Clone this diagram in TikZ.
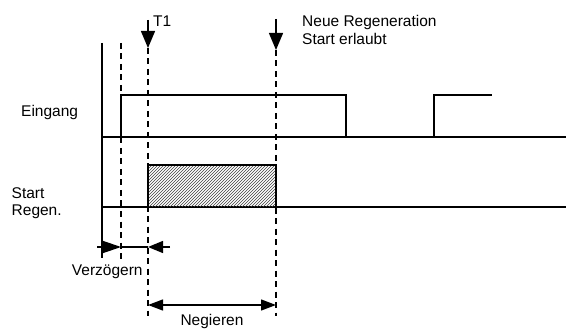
\documentclass[tikz,border=0pt]{standalone}
\usepackage{fontspec}
\setmainfont{Liberation Sans}
\usetikzlibrary{arrows.meta,patterns}
\begin{document}
\begin{tikzpicture}[x=1pt,y=-1pt,
  sig/.style={line width=1.3pt},
  dline/.style={line width=1.2pt,dash pattern=on 6pt off 4.5pt},
  bigtip/.style={-{Triangle[length=17pt,width=14pt]},line width=1.3pt},
  medtip/.style={{Triangle[length=15pt,width=11pt]}-{Triangle[length=15pt,width=11pt]},line width=1.3pt},
  lbl/.style={font=\fontsize{15.5}{18}\selectfont,inner sep=0pt}]
\useasboundingbox (0,0) rectangle (566,329);
% axis
\draw[line width=1.3pt] (102,43) -- (102,258);
% dashed markers
\draw[dline] (121,43) -- (121,260);
\coordinate (t1top) at (148,20);
\coordinate (t1tip) at (148,48);
\coordinate (t2top) at (276,19);
\coordinate (t2tip) at (276,50);
\draw[bigtip] (t1top) -- (t1tip);
\draw[bigtip] (t2top) -- (t2tip);
\draw[dline] (t1tip) -- (148,316);
\draw[dline] (t2tip) -- (276,316);
% Eingang signal
\draw[sig] (102,137) -- (566,137);
\draw[sig] (121,137) -- (121,95) -- (346,95) -- (346,137);
\draw[sig] (434,137) -- (434,95) -- (492,95);
% Start Regen signal
\draw[sig] (102,207) -- (566,207);
\fill[pattern=north east lines,pattern color=black!75] (148,165) rectangle (276,207);
\draw[sig] (148,207) -- (148,165) -- (276,165) -- (276,207);
% Verzoegern arrows
\coordinate (va) at (97,247);
\coordinate (vb) at (121,247);
\coordinate (vc) at (148,247);
\coordinate (vd) at (170,247);
\draw[line width=1.3pt] (vb) -- (vc);
\draw[line width=1.3pt,-{Triangle[length=18pt,width=12pt]}] (va) -- (vb);
\draw[line width=1.3pt,-{Triangle[length=15pt,width=12pt]}] (vd) -- (vc);
% Negieren arrow
\coordinate (na) at (148,305);
\coordinate (nb) at (276,305);
\draw[medtip] (na) -- (nb);
% labels
\node[lbl,anchor=base west] (eing) at (21,116.5) {Eingang};
\node[lbl,anchor=base west] (neue) at (302,26.7) {Neue Regeneration};
\node[lbl,anchor=base west] (erl) at (302,44.5) {Start erlaubt};
\node[lbl,anchor=base west] (t1) at (153,27) {T1};
\node[lbl,anchor=base west] (st) at (11.5,198) {Start};
\node[lbl,anchor=base west] (rg) at (11.5,215) {Regen.};
\node[lbl,anchor=base west] (verz) at (71.7,276) {Verzögern};
\node[lbl,anchor=base] (neg) at (212,325.5) {Negieren};
\end{tikzpicture}
\end{document}
